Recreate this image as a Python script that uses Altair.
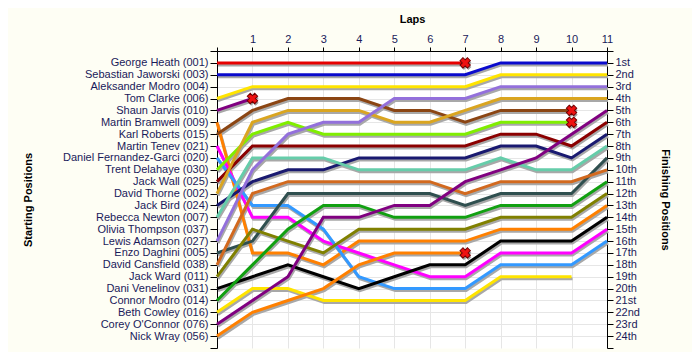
import json
import altair as alt
import pandas as pd

# ---------------- data ----------------
laps = list(range(12))

start_labels = [
    "George Heath (001)", "Sebastian Jaworski (003)", "Aleksander Modro (004)",
    "Tom Clarke (006)", "Shaun Jarvis (010)", "Martin Bramwell (009)",
    "Karl Roberts (015)", "Martin Tenev (021)", "Daniel Fernandez-Garci (020)",
    "Trent Delahaye (030)", "Jack Wall (025)", "David Thorne (002)",
    "Jack Bird (024)", "Rebecca Newton (007)", "Olivia Thompson (037)",
    "Lewis Adamson (027)", "Enzo Daghini (005)", "David Cansfield (038)",
    "Jack Ward (011)", "Dani Venelinov (031)", "Connor Modro (014)",
    "Beth Cowley (016)", "Corey O'Connor (076)", "Nick Wray (056)",
]

finish_labels = [
    "1st", "2nd", "3rd", "4th", "5th", "6th", "7th", "8th", "9th", "10th",
    "11th", "12th", "13th", "14th", "15th", "16th", "17th", "18th", "19th",
    "20th", "21st", "22nd", "23rd", "24th",
]

# position per lap (lap 0 = grid)
george_heath = [1, 1, 1, 1, 1, 1, 1, 1]
sebastian_jaworski = [2, 2, 2, 2, 2, 2, 2, 2, 1, 1, 1, 1]
tom_clarke = [4, 3, 3, 3, 3, 3, 3, 3, 2, 2, 2, 2]
shaun_jarvis = [5, 4]
martin_bramwell = [6, 17, 17, 18, 16, 16, 16, 16, 15, 15, 15, 13]
karl_roberts = [7, 5, 4, 4, 4, 5, 5, 6, 5, 5, 5]
martin_tenev = [8, 14, 14, 16, 17, 18, 19, 19, 17, 17, 17, 15]
daniel_fg = [9, 13, 13, 15, 19, 20, 20, 20, 18, 18, 18, 16]
trent_delahaye = [10, 7, 6, 7, 7, 7, 7, 7, 6, 6, 6]
jack_wall = [11, 8, 8, 8, 8, 8, 8, 8, 7, 7, 8, 6]
david_thorne = [12, 6, 5, 5, 5, 6, 6, 5, 4, 4, 4, 4]
jack_bird = [13, 11, 10, 10, 9, 9, 9, 9, 8, 8, 9, 7]
rebecca_newton = [14, 9, 9, 9, 10, 10, 10, 10, 9, 10, 10, 8]
lewis_adamson = [16, 10, 7, 6, 6, 4, 4, 4, 3, 3, 3, 3]
enzo_daghini = [17, 16, 12, 12, 12, 12, 12, 13, 12, 12, 12, 9]
david_cansfield = [18, 12, 11, 11, 11, 11, 11, 12, 11, 11, 11, 10]
jack_ward = [19, 15, 16, 17, 15, 15, 15, 15, 14, 14, 14, 12]
dani_venelinov = [20, 19, 18, 19, 20, 19, 18, 18, 16, 16, 16, 14]
connor_modro = [21, 18, 15, 13, 13, 14, 14, 14, 13, 13, 13, 11]
beth_cowley = [22, 20, 20, 21, 21, 21, 21, 21, 19, 19, 19]
corey_oconnor = [23, 21, 19, 14, 14, 13, 13, 11, 10, 9, 7, 5]
nick_wray = [24, 22, 21, 20, 18, 17, 17, 17]

# (name, colour, positions, crashed)
series = [
    ("George Heath (001)", "#E60000", george_heath, True),
    ("Sebastian Jaworski (003)", "#0A0ACD", sebastian_jaworski, False),
    ("Tom Clarke (006)", "#FFE400", tom_clarke, False),
    ("Shaun Jarvis (010)", "#800080", shaun_jarvis, True),
    ("Martin Bramwell (009)", "#FF8000", martin_bramwell, False),
    ("Karl Roberts (015)", "#8B4513", karl_roberts, True),
    ("Martin Tenev (021)", "#FF00FF", martin_tenev, False),
    ("Daniel Fernandez-Garci (020)", "#3399FF", daniel_fg, False),
    ("Trent Delahaye (030)", "#80EE00", trent_delahaye, True),
    ("Jack Wall (025)", "#8B0000", jack_wall, False),
    ("David Thorne (002)", "#DAA520", david_thorne, False),
    ("Jack Bird (024)", "#191970", jack_bird, False),
    ("Rebecca Newton (007)", "#66CDAA", rebecca_newton, False),
    ("Lewis Adamson (027)", "#9370DB", lewis_adamson, False),
    ("Enzo Daghini (005)", "#2F4F4F", enzo_daghini, False),
    ("David Cansfield (038)", "#D2691E", david_cansfield, False),
    ("Jack Ward (011)", "#808000", jack_ward, False),
    ("Dani Venelinov (031)", "#000000", dani_venelinov, False),
    ("Connor Modro (014)", "#11A011", connor_modro, False),
    ("Beth Cowley (016)", "#FFE400", beth_cowley, False),
    ("Corey O'Connor (076)", "#800080", corey_oconnor, False),
    ("Nick Wray (056)", "#FF8000", nick_wray, True),
]

rows = []
for name, col, ps, crashed in series:
    for i, p in enumerate(ps):
        rows.append({"driver": name, "lap": laps[i], "pos": p})
df = pd.DataFrame(rows)

crash_rows = []
for name, col, ps, crashed in series:
    if crashed:
        crash_rows.append({"driver": name, "lap": laps[len(ps) - 1], "pos": ps[-1]})
crash_df = pd.DataFrame(crash_rows)

# ---------------- style ----------------
FONT = "Liberation Sans"
LABEL_COLOR = "#1a1a5a"
GRID = "#e6e6e6"

xscale = alt.Scale(domain=[0, 11], nice=False, zero=False)
yscale = alt.Scale(domain=[0, 25], reverse=True, nice=False, zero=False)

x_axis = alt.Axis(
    orient="top", values=laps, labelExpr="datum.value == 0 ? '' : datum.label",
    title="Laps", titleFont=FONT, titleFontSize=11, titleFontWeight="bold",
    titleColor="black", titleX=195, titleY=-29, titleAlign="center",
    titleBaseline="alphabetic",
    labelFont=FONT, labelFontSize=11, labelColor=LABEL_COLOR, labelPadding=3,
    tickSize=4, tickColor="black", domainColor="black",
    grid=True, gridColor=GRID, labelFlush=False,
)

left_expr = ("datum.value >= 1 && datum.value <= 24 ? "
             + json.dumps(start_labels) + "[datum.value - 1] : ''")
right_expr = ("datum.value >= 1 && datum.value <= 24 ? "
              + json.dumps(finish_labels) + "[datum.value - 1] : ''")

left_axis = alt.Axis(
    orient="left", values=list(range(26)), labelExpr=left_expr,
    title="Starting Positions", titleFont=FONT, titleFontSize=11,
    titleFontWeight="bold", titleColor="black", titleAngle=-90,
    titleX=-186, titleY=148.5, titleAlign="center", titleBaseline="alphabetic",
    labelFont=FONT, labelFontSize=11, labelColor=LABEL_COLOR, labelPadding=2,
    tickSize=7, tickColor="black", domainColor="black",
    grid=True,
    gridColor={"condition": {"test": "datum.value == 25", "value": "transparent"},
               "value": GRID},
    labelOverlap=False, labelFlush=False,
)

right_axis = alt.Axis(
    orient="right", values=list(range(26)), labelExpr=right_expr,
    title="Finishing Positions", titleFont=FONT, titleFontSize=11,
    titleFontWeight="bold", titleColor="black", titleAngle=90,
    titleX=54, titleY=148.5, titleAlign="center", titleBaseline="alphabetic",
    labelFont=FONT, labelFontSize=11, labelColor=LABEL_COLOR, labelPadding=2,
    tickSize=6, tickColor="black", domainColor="black",
    grid=False, labelOverlap=False, labelFlush=False,
)

color_scale = alt.Scale(domain=[s[0] for s in series], range=[s[1] for s in series])

DX = 0.028  # shadow offset (1px in lap units)
DY = 0.17   # shadow offset (2px in position units)

shadow = alt.Chart(df).transform_calculate(
    sx=f"datum.lap + {DX}", sy=f"datum.pos + {DY}"
).mark_line(strokeWidth=3, color="#a8a8a8").encode(
    x=alt.X("sx:Q", scale=xscale, axis=x_axis),
    y=alt.Y("sy:Q", scale=yscale, axis=left_axis),
    detail="driver:N",
)

lines = alt.Chart(df).mark_line(strokeWidth=3).encode(
    x=alt.X("lap:Q", scale=xscale, axis=None),
    y=alt.Y("pos:Q", scale=yscale, axis=None),
    color=alt.Color("driver:N", scale=color_scale, legend=None),
    detail="driver:N",
)

crash_shadow = alt.Chart(crash_df).transform_calculate(
    sx=f"datum.lap + {DX}", sy=f"datum.pos + {DY}"
).mark_point(shape="cross", angle=45, filled=True, size=110,
             color="#a0a0a0", opacity=1).encode(
    x=alt.X("sx:Q", scale=xscale, axis=None),
    y=alt.Y("sy:Q", scale=yscale, axis=None),
)

crashes = alt.Chart(crash_df).mark_point(
    shape="cross", angle=45, filled=True, size=110,
    fill="#EE1111", stroke="#700000", strokeWidth=1, opacity=1,
).encode(
    x=alt.X("lap:Q", scale=xscale, axis=None),
    y=alt.Y("pos:Q", scale=yscale, axis=right_axis),
)

chart = alt.layer(shadow, lines, crash_shadow, crashes).resolve_axis(
    x="independent", y="independent"
).properties(
    width=390, height=297,
    autosize=alt.AutoSizeParams(type="none"),
    padding={"left": 209, "top": 43, "right": 85, "bottom": 4},
    background="#FEFEF4",
).configure_view(fill="white", stroke="transparent")

chart.save("out.html", embed_options={"renderer": "svg", "actions": False})
